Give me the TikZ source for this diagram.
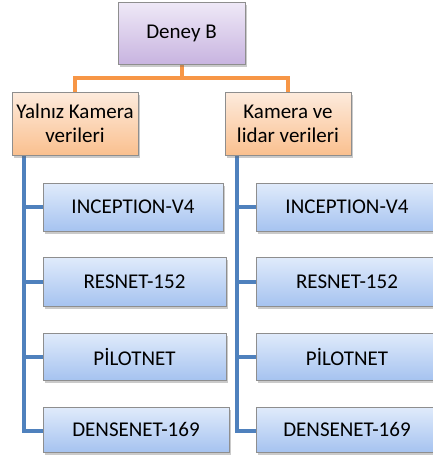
\documentclass[tikz,border=0pt]{standalone}
\usepackage{fontspec}
\setmainfont{Carlito}
\usetikzlibrary{shadows,backgrounds}
\definecolor{purT}{HTML}{EFE9F7}
\definecolor{purB}{HTML}{C8B4E0}
\definecolor{orT}{HTML}{FDEBDD}
\definecolor{orB}{HTML}{FAC08F}
\definecolor{blT}{HTML}{E0EBFB}
\definecolor{blB}{HTML}{A6C3F0}
\definecolor{orLine}{HTML}{F79646}
\definecolor{blLine}{HTML}{4F81BD}
\definecolor{edge}{HTML}{8E8E8E}
\tikzset{
  box/.style={rectangle, draw=edge, line width=0.8pt, inner sep=0pt, align=center,
    font=\fontsize{21}{24}\selectfont,
    drop shadow={shadow xshift=2pt, shadow yshift=-2.5pt, opacity=0.35, fill=black!60}},
  topbox/.style={box, top color=purT, bottom color=purB},
  midbox/.style={box, top color=orT, bottom color=orB},
  leafbox/.style={box, top color=blT, bottom color=blB},
  orline/.style={draw=orLine, line width=4pt},
  blline/.style={draw=blLine, line width=4pt},
}
\begin{document}
\begin{tikzpicture}[x=1pt,y=-1pt]
\useasboundingbox (0,0) rectangle (433,459);
\clip (0,0) rectangle (433,459);
% top
\node[topbox, minimum width=127pt, minimum height=62pt] (top) at (181.5,33) {Deney B};
% mid
\node[midbox, minimum width=126pt, minimum height=63pt] (L) at (75,123.5) {Yalnız Kamera\\verileri};
\node[midbox, minimum width=126pt, minimum height=63pt] (R) at (288,123.5) {Kamera ve\\lidar verileri};
% left leaves
\node[leafbox, minimum width=180pt, minimum height=48pt] (L1) at (133,207) {INCEPTION-V4};
\node[leafbox, minimum width=183pt, minimum height=49pt] (L2) at (134.5,281.5) {RESNET-152};
\node[leafbox, minimum width=183pt, minimum height=47pt] (L3) at (134.5,356.5) {PİLOTNET};
\node[leafbox, minimum width=186pt, minimum height=45pt] (L4) at (136,429.5) {\raisebox{-9pt}{DENSENET-169}};
% right leaves
\node[leafbox, minimum width=182pt, minimum height=48pt] (R1) at (347,207) {INCEPTION-V4};
\node[leafbox, minimum width=182pt, minimum height=49pt] (R2) at (347,281.5) {RESNET-152};
\node[leafbox, minimum width=182pt, minimum height=47pt] (R3) at (347,356.5) {PİLOTNET};
\node[leafbox, minimum width=182pt, minimum height=45pt] (R4) at (347,429.5) {DENSENET-169};
\coordinate (xL) at (24,0);
\coordinate (xR) at (237,0);
% connectors
\begin{pgfonlayer}{background}
\draw[orline] (top.south) -- ++(0,14) -| (L.north);
\draw[orline] (top.south) -- ++(0,14) -| (R.north);
\foreach \n in {1,2,3}{
  \draw[blline] (L.south -| xL) |- (L\n.west);
  \draw[blline] (R.south -| xR) |- (R\n.west);
}
\draw[blline] (L.south -| xL) |- ([yshift=-1.5pt]L4.west);
\draw[blline] (R.south -| xR) |- ([yshift=-1.5pt]R4.west);
\end{pgfonlayer}
\end{tikzpicture}
\end{document}
